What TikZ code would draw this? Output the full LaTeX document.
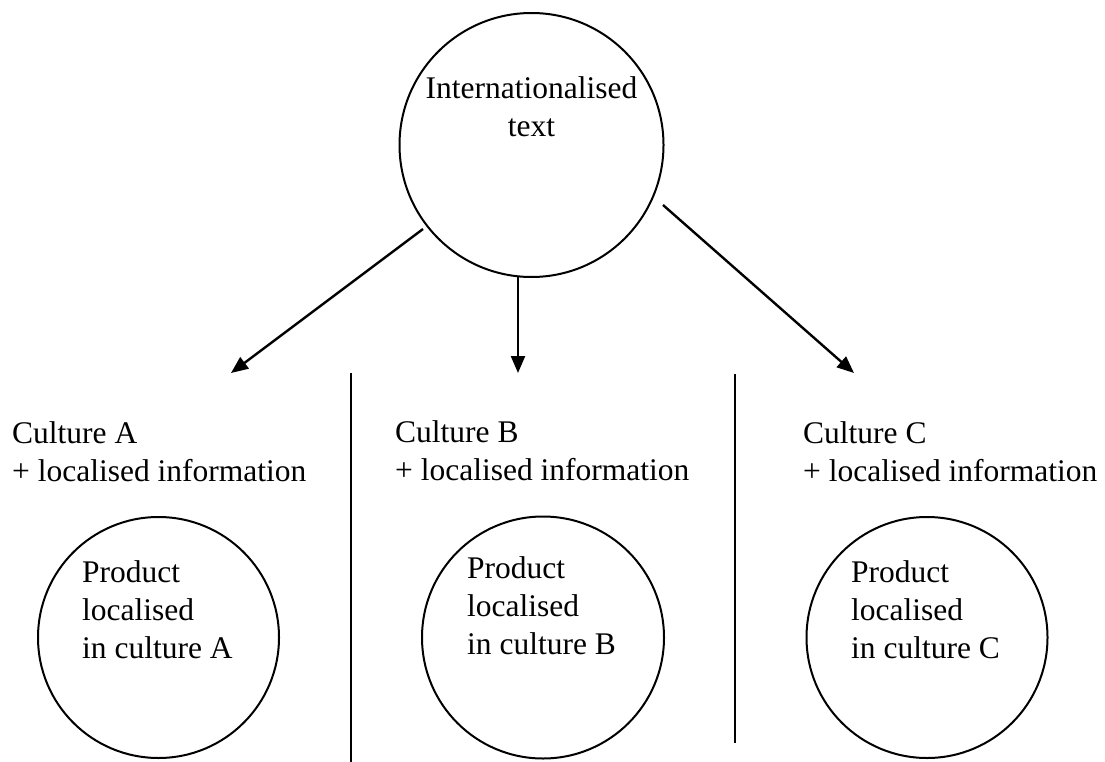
\documentclass[tikz,border=0pt]{standalone}
\usepackage{fontspec}
\setmainfont{Liberation Serif}
\usetikzlibrary{arrows.meta}
\begin{document}
\begin{tikzpicture}[x=1pt,y=-1pt,
  ring/.style={draw, line width=2pt, circle, minimum size=#1, inner sep=0pt},
  lbl/.style={inner sep=0pt, font=\fontsize{31.5}{38}\selectfont},
  flow/.style={line width=2.4pt, -{Triangle[length=17pt,width=14pt]}},
  divider/.style={line width=2.4pt}]
\useasboundingbox (0,0) rectangle (1105,762);

% source circle (multi-line labels are anchored at their last baseline)
\node[ring=264pt] (src) at (531.5,145) {};
\node[lbl, align=center, anchor=base] (srctext) at (531.5,137) {Internationalised\\text};

% arrow ends
\coordinate (fromA) at (423,229);
\coordinate (fromB) at (518,277);
\coordinate (fromC) at (663,205);
\coordinate (toA) at (231,373);
\coordinate (toB) at (518,373);
\coordinate (toC) at (854,373);
\draw[flow] (fromA) -- (toA);
\draw[flow] (fromB) -- (toB);
\draw[flow] (fromC) -- (toC);

% column dividers
\coordinate (d1top) at (351,373);
\coordinate (d1bot) at (351,762);
\coordinate (d2top) at (735,374);
\coordinate (d2bot) at (735,743);
\draw[divider] (d1top) -- (d1bot);
\draw[divider] (d2top) -- (d2bot);

% culture headings
\node[lbl, align=left, anchor=base west] (cultA) at (12,481) {Culture A\\+ localised information};
\node[lbl, align=left, anchor=base west] (cultB) at (395,480) {Culture B\\+ localised information};
\node[lbl, align=left, anchor=base west] (cultC) at (803,481) {Culture C\\+ localised information};

% localised products
\node[ring=241pt] (prodA) at (158.5,637.5) {};
\node[ring=242pt] (prodB) at (543,637.5) {};
\node[ring=241pt] (prodC) at (927,637.5) {};
\node[lbl, align=left, anchor=base west] (prodAtext) at (82,658) {Product\\localised\\in culture A};
\node[lbl, align=left, anchor=base west] (prodBtext) at (467,654) {Product\\localised\\in culture B};
\node[lbl, align=left, anchor=base west] (prodCtext) at (851,658) {Product\\localised\\in culture C};
\end{tikzpicture}
\end{document}
